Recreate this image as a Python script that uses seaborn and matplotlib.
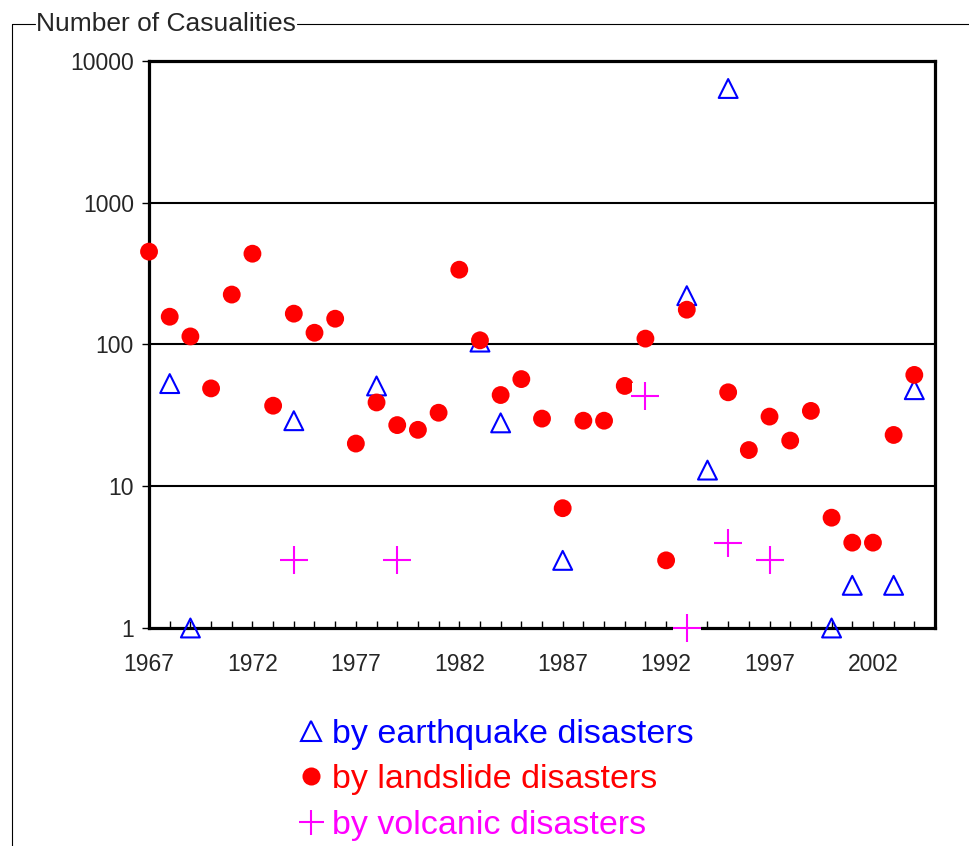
import numpy as np
import pandas as pd
import seaborn as sns
import matplotlib.pyplot as plt
from matplotlib.lines import Line2D
from matplotlib.ticker import FixedLocator, MultipleLocator, NullLocator, FixedFormatter

# casualties per year
quake_years = [1968, 1969, 1974, 1978, 1983, 1984, 1987, 1993, 1994, 1995, 2000, 2001, 2003, 2004]
quake_deaths = [53, 1, 29, 51, 104, 28, 3, 221, 13, 6400, 1, 2, 2, 48]

slide_years = [1967, 1968, 1969, 1970, 1971, 1972, 1973, 1974, 1975, 1976,
               1977, 1978, 1979, 1980, 1981, 1982, 1983, 1984, 1985, 1986,
               1987, 1988, 1989, 1990, 1991, 1992, 1993, 1995, 1996, 1997,
               1998, 1999, 2000, 2001, 2002, 2003, 2004]
slide_deaths = [452, 157, 114, 49, 225, 437, 37, 165, 121, 152,
                20, 39, 27, 25, 33, 337, 107, 44, 57, 30,
                7, 29, 29, 51, 110, 3, 176, 46, 18, 31,
                21, 34, 6, 4, 4, 23, 61]

volc_years = [1974, 1979, 1991, 1993, 1995, 1997]
volc_deaths = [3, 3, 43, 1, 4, 3]

year_ticks = [1967, 1972, 1977, 1982, 1987, 1992, 1997, 2002]
y_ticks = [1, 10, 100, 1000, 10000]
y_labels = ["1", "10", "100", "1000", "10000"]

legend_labels = ["by earthquake disasters", "by landslide disasters", "by volcanic disasters"]

quake = pd.DataFrame({"year": quake_years, "deaths": quake_deaths})
slide = pd.DataFrame({"year": slide_years, "deaths": slide_deaths})
volc = pd.DataFrame({"year": volc_years, "deaths": volc_deaths})

sns.set_style("white")
plt.rcParams["font.family"] = ["Liberation Sans", "DejaVu Sans"]

fig = plt.figure(figsize=(9.69, 8.46), dpi=100)
ax = fig.add_axes([0.1538, 0.2577, 0.8111, 0.6702])
ax.set_yscale("log")

sns.scatterplot(data=quake, x="year", y="deaths", ax=ax, marker="^", s=185,
                facecolor="none", edgecolor="blue", linewidth=1.5,
                clip_on=False, zorder=3, legend=False)
sns.scatterplot(data=slide, x="year", y="deaths", ax=ax, marker="o", s=165,
                color="red", edgecolor="none", clip_on=False, zorder=4, legend=False)
# white box behind each volcano marker (as in the original)
sns.scatterplot(data=volc, x="year", y="deaths", ax=ax, marker="s", s=400,
                color="white", edgecolor="none", clip_on=False, zorder=5, legend=False)
sns.scatterplot(data=volc, x="year", y="deaths", ax=ax, marker="+", s=380,
                color="magenta", linewidth=1.5, clip_on=False, zorder=6, legend=False)

ax.set_xlim(1967, 2005)
ax.set_ylim(1, 10000)
ax.set_xlabel("")
ax.set_ylabel("")

ax.xaxis.set_major_locator(FixedLocator(year_ticks))
ax.xaxis.set_minor_locator(MultipleLocator(1))
ax.yaxis.set_major_locator(FixedLocator(y_ticks))
ax.yaxis.set_major_formatter(FixedFormatter(y_labels))
ax.yaxis.set_minor_locator(NullLocator())
ax.tick_params(axis="x", which="both", direction="in", length=5, width=1,
               labelsize=16.5, pad=18, bottom=True, color="black")
ax.tick_params(axis="y", which="major", direction="out", length=5, width=1,
               labelsize=16.5, pad=6, left=True, color="black")

for v in y_ticks[1:-1]:
    ax.axhline(v, color="black", lw=1.5, zorder=2)

for sp in ax.spines.values():
    sp.set_visible(True)
    sp.set_color("black")
    sp.set_linewidth(2.3)

# group-box frame with title
W, H = 969, 846
title = fig.text(36 / W, 1 - 24 / H, "Number of Casualities", fontsize=19,
                 ha="left", va="center")
fig.canvas.draw()
bb = title.get_window_extent()
fig.add_artist(Line2D([12 / W, 35 / W], [1 - 24 / H, 1 - 24 / H], color="black", lw=0.8))
fig.add_artist(Line2D([(bb.x1 + 1) / W, 1.0], [1 - 24 / H, 1 - 24 / H], color="black", lw=0.8))
fig.add_artist(Line2D([12 / W, 12 / W], [1 - 24 / H, 0.0], color="black", lw=0.8))

handles = [
    Line2D([], [], ls="none", marker="^", markersize=14, markerfacecolor="none",
           markeredgecolor="blue", markeredgewidth=1.5),
    Line2D([], [], ls="none", marker="o", markersize=13, markerfacecolor="red",
           markeredgecolor="none"),
    Line2D([], [], ls="none", marker="+", markersize=18, markeredgecolor="magenta",
           markeredgewidth=1.5),
]
fig.legend(handles, legend_labels, loc="upper left", bbox_to_anchor=(299 / W, 1 - 719 / H),
           frameon=False, fontsize=24.5, handlelength=0.72, handletextpad=0.25,
           labelspacing=0.42, borderpad=0, borderaxespad=0,
           labelcolor=["blue", "red", "magenta"])

fig.savefig("out.png", dpi=100)
